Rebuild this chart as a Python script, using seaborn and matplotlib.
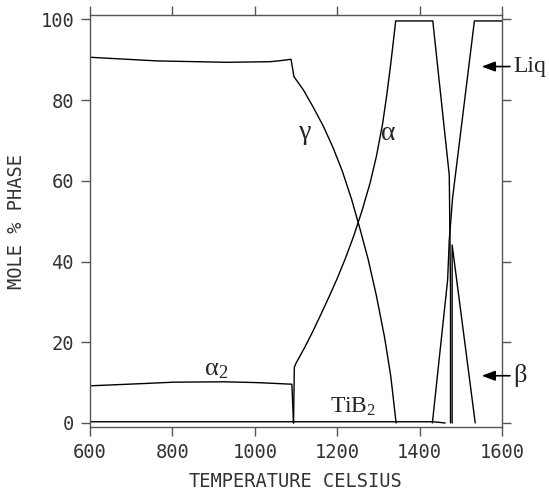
import pandas as pd
import matplotlib
matplotlib.use("Agg")
import matplotlib.pyplot as plt
import seaborn as sns

# phase fractions (temperature in C, mole % phase)
gamma_t = [600, 762, 932, 1037, 1061, 1088, 1095, 1118, 1142, 1166, 1190, 1212, 1235, 1255,
           1275, 1295, 1315, 1330, 1343]
gamma_v = [90.6, 89.7, 89.35, 89.5, 89.75, 90.1, 85.8, 82.5, 78.2, 73.6, 68.2, 62.5, 55.4, 48.2,
           40.6, 31.6, 21.2, 11.6, 0.0]

alpha2_t = [600, 738, 802, 924, 1005, 1090, 1094]
alpha2_v = [9.2, 9.8, 10.1, 10.2, 10.0, 9.6, 0.0]

alpha_t = [1094, 1096, 1100, 1120, 1140, 1160, 1180, 1200, 1220, 1240, 1260, 1280, 1295,
           1310, 1320, 1330, 1342, 1432, 1472, 1475, 1475]
alpha_v = [0.0, 13.8, 14.8, 18.5, 22.5, 26.8, 31.2, 35.8, 40.8, 46.3, 52.5, 59.5, 66.0,
           74.0, 81.0, 89.0, 99.6, 99.6, 61.4, 33.0, 0.0]

liq_t = [1431, 1468, 1472, 1480, 1533, 1600]
liq_v = [0.0, 35.4, 45.3, 55.7, 99.6, 99.6]

beta_t = [1479, 1479, 1535]
beta_v = [0.0, 44.1, 0.0]

tib2_t = [600, 1432, 1462]
tib2_v = [0.3, 0.3, 0.0]

x_ticks = [600, 800, 1000, 1200, 1400, 1600]
y_ticks = [0, 20, 40, 60, 80, 100]

series = {
    "gamma": (gamma_t, gamma_v),
    "alpha2": (alpha2_t, alpha2_v),
    "alpha": (alpha_t, alpha_v),
    "liq": (liq_t, liq_v),
    "beta": (beta_t, beta_v),
    "tib2": (tib2_t, tib2_v),
}
frames = []
for name, (t, v) in series.items():
    frames.append(pd.DataFrame({"phase": name, "T": t, "v": v}))
df = pd.concat(frames, ignore_index=True)

sns.set_style("ticks")
plt.rcParams["mathtext.fontset"] = "custom"
plt.rcParams["mathtext.rm"] = "Liberation Serif"
plt.rcParams["mathtext.it"] = "Liberation Serif:italic"

fig = plt.figure(figsize=(5.49, 4.90), dpi=100)
ax = fig.add_axes([0.1639, 0.128, 0.7505, 0.8408])

sns.lineplot(data=df, x="T", y="v", units="phase", estimator=None, sort=False,
             color="black", linewidth=1.0, ax=ax, legend=False)

ax.set_xlim(600, 1600)
ax.set_ylim(-1.07, 101)
ax.set_xticks(x_ticks)
ax.set_yticks(y_ticks)

mono = "DejaVu Sans Mono"
gray = "#555555"
txt = "#333333"
for sp in ax.spines.values():
    sp.set_visible(True)
    sp.set_color(gray)
    sp.set_linewidth(1.0)
ax.tick_params(direction="out", length=6.5, width=1.0, color=gray,
               top=True, right=True, labeltop=False, labelright=False,
               labelsize=13.5, labelcolor=txt)
ax.tick_params(axis="x", pad=5)
ax.tick_params(axis="y", pad=5)
for lab in ax.get_xticklabels() + ax.get_yticklabels():
    lab.set_family(mono)

ax.set_xlabel("TEMPERATURE_CELSIUS", family=mono, fontsize=13.5, color=txt, labelpad=7)
ax.set_ylabel("MOLE % PHASE", family=mono, fontsize=13.5, color=txt, labelpad=10)

serif = "Liberation Serif"
ax.text(1122, 70.4, "γ", family=serif, fontsize=20, ha="center", va="baseline")
ax.text(1325, 70.1, "α", family=serif, fontsize=20, ha="center", va="baseline")
ax.text(907, 11.9, "α$_2$", family=serif, fontsize=19, ha="center", va="baseline")
ax.text(1238, 2.5, "TiB$_2$", family=serif, fontsize=17, ha="center", va="baseline")

# arrows pointing at the liquid and beta curves
ax.annotate("", xy=(1544, 88.3), xytext=(1626, 88.3), annotation_clip=False,
            arrowprops=dict(arrowstyle="-|>,head_length=0.8,head_width=0.3", color="black", lw=1.2))
ax.annotate("", xy=(1544, 11.7), xytext=(1626, 11.7), annotation_clip=False,
            arrowprops=dict(arrowstyle="-|>,head_length=0.8,head_width=0.3", color="black", lw=1.2))
ax.text(1627, 88.3, "Liq", family=serif, fontsize=17, ha="left", va="center", clip_on=False)
ax.text(1627, 11.7, "β", family=serif, fontsize=19, ha="left", va="center", clip_on=False)

fig.savefig("out.png", dpi=100)
